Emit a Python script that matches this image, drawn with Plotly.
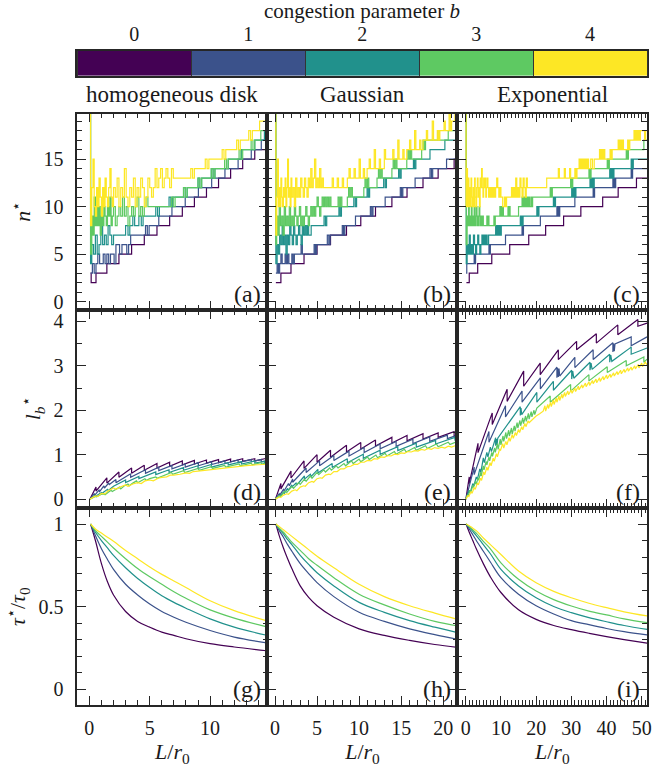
import plotly.graph_objects as go

FONT = "Liberation Serif"
COLORS = ["#440154", "#3b528b", "#21918c", "#5ec962", "#fde725"]
B_VALUES = [0, 1, 2, 3, 4]
PANEL_TITLES = ["homogeneous disk", "Gaussian", "Exponential"]
PANEL_LABELS = ["(a)", "(b)", "(c)", "(d)", "(e)", "(f)", "(g)", "(h)", "(i)"]
Y_TITLES = ["<i>n</i><sup>⋆</sup>", "<i>l</i><sub><i>b</i></sub><sup>⋆</sup>",
            "<i>τ</i><sup>⋆</sup>/<i>τ</i><sub>0</sub>"]
X_TITLE = "<i>L</i>/<i>r</i><sub>0</sub>"
CBAR_TITLE = "congestion parameter <i>b</i>"

# ---------------- row 1: n* (points as (L, n)) ----------------
A_B0 = [(0.1,3),(0.15,2),(0.55,3),(1.45,4),(2.45,5),(3.5,6),(4.55,7),(5.6,8),(6.65,9),(7.7,10),(8.7,11),(9.7,12),(10.7,13),(11.7,14),(12.7,15),(13.7,16),(14.7,16)]
A_B1 = [(0.1,3),(0.25,4),(0.4,3),(0.55,4),(0.7,5),(0.85,4),(1.0,4),(1.15,5),(1.3,4),(1.45,5),(1.6,4),(1.75,5),(1.9,5),(2.05,4),(2.2,6),(2.5,5),(2.7,6),(2.9,6),(3.1,5),(3.25,6),(3.42,7),(4.65,8),(4.8,7),(4.95,8),(5.75,9),(6.84,10),(7.94,11),(9.03,12),(10.13,13),(11.23,14),(12.32,15),(13.41,16),(14.24,17),(14.7,17)]
A_B2 = [(0.03,25),(0.1,4),(0.2,6),(0.35,5),(0.5,7),(0.65,5),(0.8,6),(0.95,8),(1.1,6),(1.25,7),(1.4,6),(1.55,8),(1.7,7),(1.85,6),(2.0,7),(3.0,8),(3.2,7),(3.35,8),(3.6,9),(3.75,8),(4.1,9),(4.3,8),(4.45,9),(5.5,10),(5.65,9),(5.8,10),(6.6,11),(6.75,10),(6.9,11),(7.8,12),(7.95,11),(8.1,12),(9.0,13),(9.15,12),(9.3,13),(10.1,14),(10.25,13),(10.4,14),(11.5,15),(12.6,16),(13.7,17),(14.5,18),(14.7,18)]
A_B3 = [(0.03,25),(0.1,5),(0.2,9),(0.3,7),(0.4,11),(0.5,8),(0.6,12),(0.7,8),(0.8,10),(0.9,7),(1.0,9),(1.1,8),(1.2,10),(1.3,9),(1.4,8),(1.5,10),(1.6,9),(1.7,11),(1.8,8),(1.9,9),(2.0,10),(2.15,8),(2.3,9),(2.45,10),(2.6,9),(2.75,11),(2.9,9),(3.05,10),(3.2,8),(3.35,9),(3.5,10),(3.65,9),(3.8,10),(3.95,11),(4.1,9),(4.25,10),(4.4,9),(4.55,10),(4.7,11),(4.85,10),(6.8,11),(6.95,10),(7.1,11),(7.8,12),(7.95,11),(8.1,12),(9.0,13),(9.15,12),(9.3,13),(10.1,14),(10.25,13),(10.4,14),(11.2,15),(11.35,14),(11.5,15),(12.4,16),(12.55,15),(12.7,16),(13.4,17),(13.55,16),(13.7,17),(14.2,18),(14.7,18)]
A_B4 = [(0.02,25),(0.1,8),(0.2,12),(0.3,15),(0.4,10),(0.5,9),(0.6,12),(0.7,10),(0.8,13),(0.9,11),(1.0,9),(1.1,12),(1.2,10),(1.3,13),(1.4,11),(1.5,10),(1.6,12),(1.7,14),(1.8,11),(1.9,10),(2.0,12),(2.15,11),(2.3,13),(2.45,10),(2.6,12),(2.75,11),(2.9,14),(3.05,11),(3.2,10),(3.35,12),(3.5,11),(3.65,13),(3.8,10),(3.95,12),(4.1,11),(4.25,13),(4.4,12),(4.55,10),(4.7,11),(4.85,13),(5.0,12),(5.15,11),(5.3,12),(5.45,14),(5.6,12),(5.75,13),(5.9,14),(6.05,12),(6.2,13),(6.35,14),(6.5,13),(6.65,12),(6.8,14),(6.95,13),(8.4,14),(8.55,13),(8.7,14),(9.6,15),(9.75,14),(9.9,15),(11.0,16),(11.15,15),(11.3,16),(12.2,17),(12.35,16),(12.5,17),(13.2,18),(13.35,17),(13.5,18),(14.1,19),(14.7,19)]

B_B0 = [(0.1,2),(0.7,3),(1.9,4),(3.45,5),(5.0,6),(6.6,7),(8.5,8),(10.2,9),(11.95,10),(13.9,11),(15.7,12),(17.6,13),(19.4,14),(21.3,15),(21.7,15)]
B_B1 = [(0.1,3),(0.25,4),(0.4,3),(0.55,4),(0.7,5),(0.85,4),(1.0,4),(1.2,5),(1.35,4),(1.5,5),(1.65,4),(1.8,4),(2.0,5),(2.15,4),(2.3,5),(2.9,5),(3.1,6),(3.25,5),(4.65,6),(4.8,5),(4.95,6),(6.22,7),(6.4,6),(6.55,7),(8.0,8),(8.15,7),(8.3,8),(9.57,9),(11.34,10),(11.5,9),(11.65,10),(13.1,11),(14.9,12),(15.05,11),(15.2,12),(16.66,13),(18.43,14),(18.6,13),(18.75,14),(20.4,15),(21.7,15)]
B_B2 = [(0.03,25),(0.1,4),(0.25,6),(0.4,5),(0.55,7),(0.7,6),(0.85,8),(1.0,6),(1.15,7),(1.3,5),(1.45,7),(1.6,6),(1.75,8),(1.9,7),(2.05,6),(2.2,8),(2.35,7),(2.5,6),(2.65,7),(2.8,8),(2.95,7),(3.1,6),(3.25,8),(3.4,7),(3.55,8),(3.7,7),(3.85,8),(4.0,7),(4.3,8),(5.83,9),(6.0,8),(6.15,9),(7.6,10),(7.75,9),(7.9,10),(9.37,11),(9.55,10),(9.7,11),(10.95,12),(11.1,11),(11.25,12),(12.92,13),(13.1,12),(13.25,13),(14.7,14),(14.85,13),(15.0,14),(16.46,15),(16.6,14),(16.75,15),(18.43,16),(20.2,17),(21.7,17)]
B_B3 = [(0.03,25),(0.1,6),(0.2,9),(0.35,7),(0.5,10),(0.65,8),(0.8,9),(0.95,7),(1.1,10),(1.25,8),(1.4,9),(1.55,8),(1.7,10),(1.85,8),(2.0,9),(2.15,8),(2.3,10),(2.45,9),(2.6,8),(2.75,9),(2.9,10),(3.05,8),(3.2,9),(3.35,8),(3.5,9),(3.65,10),(3.8,9),(3.95,8),(4.1,9),(4.25,10),(4.4,9),(4.55,10),(4.7,9),(4.85,10),(5.0,11),(5.15,10),(5.3,9),(5.45,10),(5.6,11),(5.75,10),(5.9,11),(6.05,10),(6.2,11),(6.35,10),(6.5,11),(6.65,10),(7.0,10),(7.5,11),(7.65,10),(7.8,11),(7.95,10),(8.6,11),(8.75,12),(8.9,11),(9.05,12),(9.2,11),(10.56,12),(10.7,13),(10.85,12),(11.0,13),(11.15,12),(12.13,13),(12.3,14),(12.45,13),(12.6,14),(12.75,13),(13.9,14),(14.05,15),(14.2,14),(14.35,15),(14.5,14),(15.67,15),(15.8,16),(15.95,15),(16.1,16),(16.25,15),(17.44,16),(17.6,17),(17.75,16),(17.9,17),(19.2,17),(19.35,18),(19.5,17),(20.6,18),(21.7,18)]
B_B4 = [(0.02,25),(0.1,7),(0.2,11),(0.3,15),(0.4,10),(0.5,12),(0.6,10),(0.7,13),(0.8,11),(0.9,10),(1.0,12),(1.1,11),(1.2,13),(1.3,10),(1.4,12),(1.5,15),(1.6,11),(1.7,12),(1.8,10),(1.9,13),(2.0,11),(2.15,12),(2.3,10),(2.45,13),(2.6,11),(2.75,12),(2.9,11),(3.05,13),(3.2,12),(3.35,11),(3.5,13),(3.65,12),(3.8,11),(3.95,13),(4.1,12),(4.25,14),(4.4,12),(4.55,13),(4.7,15),(4.85,12),(5.0,13),(5.15,12),(5.3,14),(5.45,12),(5.6,13),(5.75,12),(6.0,12),(6.8,13),(6.95,12),(7.4,13),(7.55,12),(8.0,13),(8.15,12),(8.6,13),(8.8,14),(8.95,13),(9.4,14),(9.55,13),(10.0,15),(10.15,13),(10.5,14),(10.65,13),(10.95,14),(11.2,15),(11.35,14),(11.8,16),(11.95,14),(12.4,15),(12.55,14),(13.0,16),(13.15,15),(13.7,15),(14.0,16),(14.15,15),(14.6,17),(14.75,15),(15.2,16),(15.35,15),(15.67,16),(16.0,17),(16.15,16),(16.6,18),(16.75,16),(17.2,17),(17.35,16),(17.6,17),(18.0,18),(18.15,17),(18.7,19),(18.85,17),(19.3,18),(19.45,17),(19.6,18),(20.1,19),(20.25,18),(20.7,20),(20.85,18),(21.0,19),(21.4,20),(21.55,19),(21.7,19)]

C_B0 = [(0.2,2),(1.0,3),(3.4,4),(7.4,5),(12.5,6),(17.9,7),(22.7,8),(27.8,9),(32.7,10),(38.9,11),(43.3,12),(48.5,13),(51.5,13)]
C_B1 = [(0.1,3),(0.3,4),(2.4,5),(2.6,4),(2.8,5),(6.6,6),(6.8,5),(7.0,6),(11.3,7),(16.0,8),(16.2,7),(16.4,8),(21.2,9),(25.9,10),(26.1,9),(26.3,10),(26.5,9),(26.7,10),(31.0,11),(36.2,12),(36.4,11),(36.6,12),(41.8,13),(42.0,12),(42.2,13),(42.4,12),(42.6,13),(47.0,14),(47.2,13),(47.4,14),(51.5,14)]
C_B2 = [(0.05,25),(0.15,4),(0.4,6),(0.7,5),(1.0,7),(1.3,5),(1.6,6),(1.9,5),(2.2,7),(2.5,6),(2.8,5),(3.1,6),(3.4,7),(3.7,6),(4.0,5),(4.3,6),(4.6,7),(4.9,6),(5.2,7),(5.5,6),(5.8,7),(6.1,6),(6.5,7),(8.5,8),(8.7,7),(8.9,8),(9.1,7),(9.3,8),(9.5,7),(9.7,8),(9.9,7),(10.1,8),(15.5,9),(15.7,8),(15.9,9),(16.1,8),(16.3,9),(20.2,10),(20.5,9),(20.8,10),(24.9,11),(25.2,10),(25.5,11),(30.1,12),(30.4,11),(30.7,12),(31.0,11),(31.3,12),(35.3,13),(35.6,12),(35.9,13),(36.2,12),(36.5,13),(40.9,14),(41.2,13),(41.5,14),(41.8,13),(42.1,14),(47.0,15),(47.3,14),(47.6,15),(51.5,15)]
C_B3 = [(0.05,25),(0.15,6),(0.4,9),(0.6,8),(0.8,10),(1.0,8),(1.2,9),(1.4,8),(1.6,10),(1.8,8),(2.0,9),(2.2,8),(2.4,10),(2.6,8),(2.8,9),(3.0,10),(3.2,8),(3.4,9),(3.6,8),(3.8,10),(4.0,9),(4.2,8),(4.4,9),(4.6,8),(4.8,9),(5.0,8),(5.5,8),(6.0,9),(6.2,8),(6.4,9),(6.6,8),(8.0,9),(8.2,8),(8.4,9),(9.5,9),(9.7,10),(9.9,9),(10.1,10),(10.3,9),(10.5,10),(10.7,9),(11.5,9),(12.0,10),(12.2,9),(12.4,10),(12.6,9),(13.5,9),(15.0,10),(16.0,11),(16.2,10),(16.4,11),(16.6,10),(16.8,11),(17.0,10),(17.2,11),(17.4,10),(17.6,11),(17.8,10),(18.0,11),(18.2,10),(18.6,11),(18.8,10),(19.0,11),(19.5,11),(24.0,12),(24.3,11),(24.6,12),(29.8,13),(30.1,12),(30.4,13),(35.0,14),(35.3,13),(35.6,14),(40.2,15),(40.5,14),(40.8,15),(45.6,16),(45.9,15),(46.2,16),(50.6,17),(51.5,17)]
C_B4 = [(0.03,25),(0.1,10),(0.3,14),(0.5,10),(0.7,13),(0.9,10),(1.1,12),(1.3,10),(1.5,13),(1.7,11),(1.9,10),(2.1,12),(2.3,10),(2.5,13),(2.7,11),(2.9,10),(3.1,12),(3.3,13),(3.5,11),(3.7,12),(3.9,10),(4.1,13),(4.3,12),(4.5,14),(4.7,12),(4.9,11),(5.1,13),(5.3,12),(5.5,13),(5.7,11),(5.9,12),(6.1,13),(6.3,12),(6.5,11),(6.7,12),(7.0,11),(7.3,12),(7.6,11),(7.9,12),(8.2,11),(8.5,12),(8.8,13),(9.1,12),(9.4,11),(9.7,12),(10.0,11),(10.5,10),(11.0,11),(11.3,10),(11.6,11),(12.5,11),(13.0,12),(13.3,11),(13.6,12),(13.9,11),(14.2,13),(14.5,11),(14.8,12),(15.1,11),(15.4,13),(15.7,12),(16.0,11),(16.3,13),(16.6,12),(16.9,11),(17.2,13),(17.5,12),(17.9,12),(23.0,13),(26.0,13),(26.3,14),(26.6,13),(28.0,14),(28.3,13),(29.5,14),(29.8,13),(31.0,14),(31.3,13),(31.6,14),(32.2,15),(32.5,14),(32.8,15),(33.1,14),(33.4,15),(33.7,14),(34.0,15),(34.3,14),(34.6,15),(34.9,14),(35.5,15),(36.0,14),(36.5,15),(37.5,15),(38.0,16),(38.3,15),(38.6,16),(38.9,15),(39.2,16),(39.5,15),(41.0,16),(41.3,15),(41.6,16),(43.0,16),(43.3,17),(43.6,16),(43.9,17),(44.2,16),(44.5,17),(44.8,16),(46.0,17),(46.3,16),(46.6,17),(47.5,17),(47.8,18),(48.1,17),(48.4,18),(48.7,17),(49.0,18),(49.3,17),(49.6,18),(50.5,18),(50.8,17),(51.1,18),(51.5,18)]

# ---------------- row 2: l_b* (points as (L, l)) ----------------
D_B0 = [(0.05,0.0),(0.55,0.275),(0.55,0.18),(1.45,0.48),(1.45,0.36),(2.45,0.61),(2.45,0.49),(3.5,0.70),(3.5,0.58),(4.55,0.76),(4.55,0.65),(5.6,0.80),(5.6,0.70),(6.65,0.83),(6.65,0.74),(7.7,0.86),(7.7,0.77),(8.7,0.87),(8.7,0.79),(9.7,0.88),(9.7,0.81),(10.7,0.89),(10.7,0.82),(11.7,0.90),(11.7,0.84),(12.7,0.91),(12.7,0.85),(13.7,0.91),(13.7,0.86),(14.7,0.92)]
D_B1 = [(0.05,0.0),(0.4,0.12),(0.45,0.09),(0.8,0.2),(0.85,0.17),(1.2,0.3),(1.25,0.25),(1.6,0.36),(1.65,0.33),(2.2,0.44),(2.2,0.37),(3.42,0.57),(3.42,0.49),(4.65,0.66),(4.65,0.58),(5.75,0.72),(5.75,0.64),(6.84,0.76),(6.84,0.68),(7.94,0.79),(7.94,0.72),(9.03,0.82),(9.03,0.75),(10.13,0.84),(10.13,0.78),(11.23,0.86),(11.23,0.80),(12.32,0.88),(12.32,0.82),(13.41,0.89),(13.41,0.84),(14.24,0.89),(14.24,0.84),(14.7,0.865)]
D_B2 = [(0.05,0.0),(0.5,0.09),(0.55,0.07),(1.0,0.15),(1.05,0.13),(1.5,0.22),(1.55,0.19),(2.0,0.29),(3.0,0.43),(3.0,0.375),(4.1,0.51),(4.1,0.46),(5.5,0.61),(5.5,0.55),(6.6,0.66),(6.6,0.60),(7.8,0.71),(7.8,0.65),(9.0,0.75),(9.0,0.69),(10.1,0.78),(10.1,0.72),(11.5,0.82),(11.5,0.77),(12.6,0.84),(12.6,0.79),(13.7,0.86),(13.7,0.81),(14.5,0.85),(14.5,0.81),(14.7,0.82)]
D_B3 = [(0.05,0.0),(0.5,0.06),(0.6,0.05),(1.0,0.11),(1.2,0.12),(1.3,0.1),(1.6,0.16),(1.8,0.2),(1.9,0.17),(2.2,0.23),(2.5,0.27),(2.6,0.23),(2.9,0.3),(3.2,0.34),(3.3,0.3),(3.6,0.36),(3.9,0.41),(4.0,0.37),(4.3,0.41),(4.6,0.46),(4.7,0.42),(5.0,0.46),(5.5,0.5),(5.6,0.47),(6.8,0.6),(6.9,0.56),(7.8,0.64),(7.9,0.6),(9.0,0.69),(9.1,0.65),(10.1,0.73),(10.2,0.69),(11.2,0.76),(11.3,0.72),(12.4,0.79),(12.5,0.75),(13.4,0.81),(13.5,0.77),(14.2,0.82),(14.3,0.79),(14.7,0.82)]
D_B4 = [(0.05,0.0),(0.5,0.07),(0.7,0.06),(1.0,0.13),(1.3,0.12),(1.5,0.18),(2.0,0.25),(2.2,0.22),(2.6,0.28),(3.0,0.32),(3.2,0.29),(3.6,0.34),(4.0,0.37),(4.3,0.35),(4.6,0.41),(5.0,0.43),(5.3,0.41),(5.7,0.47),(6.0,0.49),(6.4,0.5),(6.7,0.54),(7.0,0.54),(7.5,0.56),(8.0,0.59),(8.3,0.58),(8.6,0.62),(9.0,0.63),(9.6,0.65),(10.0,0.67),(10.5,0.68),(11.0,0.7),(11.5,0.71),(12.0,0.73),(12.5,0.74),(13.0,0.755),(13.5,0.765),(14.0,0.775),(14.7,0.785)]

E_B0 = [(0.05,0.0),(0.7,0.35),(0.7,0.23),(1.9,0.63),(1.9,0.475),(3.45,0.86),(3.45,0.69),(5.0,1.0),(5.0,0.83),(6.6,1.1),(6.6,0.94),(8.5,1.21),(8.5,1.06),(10.2,1.275),(10.2,1.13),(11.95,1.33),(11.95,1.195),(13.9,1.39),(13.9,1.26),(15.7,1.43),(15.7,1.31),(17.6,1.47),(17.6,1.35),(19.4,1.49),(19.4,1.39),(21.3,1.52),(21.3,1.42),(21.7,1.45)]
E_B1 = [(0.05,0.0),(0.5,0.12),(0.6,0.1),(1.0,0.22),(1.1,0.19),(1.6,0.35),(1.7,0.3),(2.1,0.45),(2.1,0.38),(3.7,0.7),(3.7,0.6),(5.3,0.86),(5.3,0.75),(7.0,0.98),(7.0,0.87),(8.8,1.08),(8.8,0.97),(10.6,1.16),(10.6,1.05),(12.5,1.24),(12.5,1.13),(14.4,1.3),(14.4,1.19),(16.4,1.35),(16.4,1.25),(18.4,1.4),(18.4,1.3),(20.5,1.44),(20.5,1.36),(21.7,1.44)]
E_B2 = [(0.05,0.0),(0.5,0.08),(0.6,0.06),(1.0,0.16),(1.1,0.13),(1.5,0.24),(1.6,0.2),(2.0,0.32),(2.0,0.27),(2.5,0.36),(2.6,0.32),(3.5,0.52),(3.5,0.45),(4.2,0.56),(4.3,0.51),(5.1,0.67),(5.1,0.59),(6.8,0.8),(6.8,0.71),(8.6,0.91),(8.6,0.82),(10.5,1.01),(10.5,0.92),(12.5,1.1),(12.5,1.01),(14.6,1.18),(14.6,1.09),(16.8,1.26),(16.8,1.17),(19.1,1.32),(19.1,1.24),(21.4,1.39),(21.4,1.32),(21.7,1.36)]
E_B3 = [(0.05,0.0),(0.5,0.08),(0.7,0.07),(1.2,0.18),(1.4,0.15),(2.0,0.28),(2.2,0.24),(2.8,0.37),(3.0,0.33),(3.5,0.45),(3.7,0.4),(4.2,0.52),(4.4,0.47),(5.0,0.6),(5.2,0.55),(5.8,0.66),(6.0,0.61),(6.5,0.7),(6.7,0.65),(7.3,0.75),(7.5,0.7),(8.2,0.8),(8.4,0.75),(9.1,0.86),(9.3,0.8),(10.0,0.9),(10.2,0.84),(11.0,0.95),(11.2,0.89),(12.0,0.99),(12.2,0.93),(13.1,1.03),(13.3,0.97),(14.2,1.07),(14.4,1.01),(15.4,1.12),(15.6,1.06),(16.6,1.16),(16.8,1.1),(17.9,1.2),(18.1,1.14),(19.2,1.24),(19.4,1.18),(20.6,1.28),(20.8,1.23),(21.7,1.3)]
E_B4 = [(0.05,0.0),(0.5,0.05),(0.7,0.04),(1.0,0.09),(1.4,0.12),(1.6,0.11),(2.0,0.18),(2.4,0.21),(2.6,0.19),(3.0,0.27),(3.4,0.3),(3.6,0.29),(4.0,0.37),(4.4,0.4),(4.6,0.38),(5.0,0.46),(5.4,0.48),(5.6,0.47),(6.0,0.54),(6.4,0.56),(6.6,0.55),(7.0,0.62),(7.4,0.62),(7.8,0.68),(8.2,0.68),(8.6,0.73),(9.0,0.74),(9.4,0.78),(9.8,0.78),(10.2,0.83),(10.6,0.83),(11.0,0.87),(11.4,0.86),(11.8,0.91),(12.2,0.9),(12.6,0.95),(13.0,0.94),(13.4,0.98),(13.8,0.97),(14.2,1.01),(14.6,1.0),(15.0,1.04),(15.4,1.03),(15.8,1.07),(16.2,1.06),(16.6,1.09),(17.0,1.08),(17.4,1.12),(17.8,1.1),(18.2,1.14),(18.6,1.12),(19.0,1.16),(19.4,1.14),(19.8,1.17),(20.2,1.15),(20.6,1.19),(21.0,1.17),(21.4,1.2),(21.7,1.19)]

F_B0 = [(0.05,0.0),(1.0,0.5),(1.0,0.35),(3.49,1.256),(3.49,1.046),(7.53,1.94),(7.53,1.68),(11.76,2.47),(11.76,2.2),(16.46,2.88),(16.46,2.54),(21.16,3.06),(21.16,2.8),(26.3,3.36),(26.3,3.14),(31.5,3.55),(31.5,3.36),(37.1,3.72),(37.1,3.51),(43.2,3.92),(43.2,3.7),(48.9,4.04),(48.9,3.89),(51.5,3.96)]
F_B1 = [(0.05,0.0),(2.4,0.72),(2.4,0.55),(6.6,1.52),(6.6,1.28),(11.3,2.1),(11.3,1.85),(16.0,2.43),(16.0,2.18),(21.2,2.73),(21.2,2.48),(25.9,2.97),(25.9,2.73),(26.1,2.95),(26.3,2.75),(26.5,2.94),(26.7,2.77),(31.0,3.19),(31.0,2.96),(36.2,3.36),(36.2,3.14),(41.8,3.52),(41.8,3.31),(42.0,3.5),(42.2,3.33),(42.4,3.49),(47.0,3.65),(47.0,3.45),(51.5,3.65)]
F_B2 = [(0.05,0.0),(1.0,0.2),(1.3,0.15),(2.0,0.35),(2.3,0.3),(3.0,0.5),(3.3,0.44),(4.0,0.68),(4.3,0.6),(5.0,0.93),(5.3,0.82),(6.0,1.05),(6.3,0.95),(7.0,1.17),(7.3,1.07),(8.5,1.38),(8.5,1.2),(8.7,1.35),(8.9,1.22),(9.1,1.37),(15.5,2.08),(15.5,1.88),(15.7,2.05),(15.9,1.9),(20.2,2.4),(20.2,2.18),(24.9,2.65),(24.9,2.45),(30.1,2.9),(30.1,2.7),(30.4,2.88),(30.7,2.72),(35.3,3.08),(35.3,2.9),(35.6,3.06),(35.9,2.92),(40.9,3.26),(40.9,3.08),(41.2,3.24),(41.5,3.1),(47.0,3.42),(47.0,3.26),(51.5,3.4)]
F_B3 = [(0.05,0.0),(0.5,0.1),(0.7,0.07),(1.2,0.2),(1.4,0.15),(2.0,0.3),(2.2,0.26),(2.8,0.4),(3.0,0.33),(3.5,0.48),(3.7,0.42),(4.2,0.6),(4.4,0.52),(5.0,0.75),(5.2,0.66),(5.8,0.85),(6.0,0.77),(6.6,0.95),(6.8,0.86),(7.4,1.05),(7.6,0.96),(8.2,1.15),(8.4,1.05),(9.0,1.25),(9.2,1.12),(9.8,1.35),(10.0,1.22),(10.6,1.42),(10.8,1.3),(11.4,1.5),(11.6,1.36),(12.2,1.55),(12.4,1.42),(13.0,1.6),(13.2,1.46),(13.8,1.65),(14.0,1.53),(14.6,1.72),(14.8,1.6),(15.4,1.77),(15.6,1.65),(16.2,1.83),(16.4,1.7),(17.0,1.87),(17.2,1.75),(17.8,1.93),(18.0,1.8),(18.6,1.97),(18.8,1.85),(19.4,2.0),(19.6,1.9),(20.2,2.05),(24.0,2.32),(24.0,2.18),(29.8,2.58),(29.8,2.43),(35.0,2.8),(35.0,2.66),(40.2,2.98),(40.2,2.85),(45.6,3.12),(45.6,3.0),(50.6,3.2),(50.6,3.08),(51.5,3.15)]
F_B4 = [(0.05,0.0),(0.6,0.08),(0.9,0.06),(1.5,0.17),(1.8,0.13),(2.4,0.26),(2.7,0.22),(3.3,0.36),(3.6,0.32),(4.2,0.47),(4.5,0.42),(5.1,0.61),(5.4,0.55),(6.0,0.72),(6.3,0.65),(6.9,0.82),(7.2,0.75),(7.8,0.92),(8.1,0.85),(8.7,1.02),(9.0,0.95),(9.6,1.12),(9.9,1.1),(10.5,1.25),(10.8,1.15),(11.4,1.3),(11.7,1.22),(12.3,1.38),(12.6,1.3),(13.2,1.45),(13.5,1.37),(14.1,1.5),(14.4,1.43),(15.0,1.57),(15.3,1.5),(15.9,1.63),(16.2,1.56),(16.8,1.7),(17.1,1.63),(17.7,1.76),(18.0,1.72),(19.0,1.8),(20.0,1.87),(21.0,1.92),(22.0,1.98),(22.5,2.1),(22.7,1.98),(23.3,2.13),(23.5,2.04),(24.1,2.18),(24.3,2.08),(24.9,2.23),(25.1,2.13),(25.7,2.27),(25.9,2.18),(26.5,2.32),(26.7,2.22),(27.3,2.36),(27.5,2.27),(28.1,2.4),(28.3,2.31),(29.0,2.43),(29.2,2.35),(30.0,2.46),(30.2,2.38),(31.0,2.5),(31.2,2.42),(32.0,2.54),(32.2,2.46),(33.0,2.57),(33.2,2.5),(34.0,2.61),(34.2,2.53),(35.0,2.64),(35.2,2.56),(36.0,2.67),(36.2,2.6),(37.0,2.7),(37.2,2.62),(38.0,2.73),(38.2,2.65),(39.0,2.76),(39.2,2.68),(40.0,2.79),(40.2,2.71),(41.0,2.81),(41.2,2.74),(42.0,2.84),(42.2,2.77),(43.0,2.87),(43.2,2.8),(44.0,2.9),(44.2,2.82),(45.0,2.92),(45.2,2.85),(46.0,2.95),(46.2,2.88),(47.0,2.97),(47.2,2.9),(48.0,3.0),(48.2,2.93),(49.0,3.03),(49.2,2.95),(50.0,3.06),(50.2,2.98),(51.0,3.08),(51.5,3.02)]

# ---------------- row 3: tau*/tau0 (shared L grid per panel) ----------------
G_X = [0.1, 0.5, 1, 1.5, 2, 3, 4, 5, 6, 7, 8, 10, 12, 14.7]
G_B0 = [1.0, 0.9, 0.76, 0.65, 0.57, 0.47, 0.41, 0.375, 0.345, 0.325, 0.305, 0.275, 0.255, 0.232]
G_B1 = [1.0, 0.93, 0.85, 0.785, 0.725, 0.635, 0.57, 0.515, 0.47, 0.435, 0.405, 0.355, 0.315, 0.28]
G_B2 = [1.0, 0.95, 0.9, 0.855, 0.81, 0.735, 0.67, 0.615, 0.565, 0.525, 0.49, 0.425, 0.375, 0.326]
G_B3 = [1.0, 0.96, 0.925, 0.89, 0.855, 0.79, 0.73, 0.68, 0.635, 0.59, 0.55, 0.48, 0.43, 0.377]
G_B4 = [1.0, 0.97, 0.945, 0.92, 0.895, 0.84, 0.79, 0.74, 0.695, 0.655, 0.615, 0.535, 0.475, 0.413]

H_X = [0.1, 0.5, 1, 1.5, 2, 3, 4, 5, 7, 10, 13, 16, 19, 21.7]
H_B0 = [1.0, 0.93, 0.855, 0.79, 0.73, 0.625, 0.555, 0.505, 0.435, 0.365, 0.325, 0.295, 0.27, 0.252]
H_B1 = [1.0, 0.96, 0.92, 0.875, 0.835, 0.76, 0.7, 0.645, 0.56, 0.465, 0.41, 0.365, 0.33, 0.302]
H_B2 = [1.0, 0.97, 0.94, 0.905, 0.875, 0.81, 0.755, 0.705, 0.625, 0.525, 0.465, 0.415, 0.375, 0.342]
H_B3 = [1.0, 0.975, 0.95, 0.92, 0.89, 0.84, 0.79, 0.75, 0.675, 0.575, 0.51, 0.455, 0.41, 0.382]
H_B4 = [1.0, 0.985, 0.965, 0.945, 0.925, 0.885, 0.845, 0.805, 0.735, 0.635, 0.56, 0.505, 0.46, 0.422]

I_X = [0.1, 1, 2, 3, 5, 7, 10, 15, 20, 25, 30, 35, 40, 45, 51.5]
I_B0 = [1.0, 0.95, 0.9, 0.85, 0.76, 0.68, 0.585, 0.48, 0.422, 0.385, 0.36, 0.338, 0.318, 0.3, 0.278]
I_B1 = [1.0, 0.97, 0.935, 0.9, 0.835, 0.77, 0.675, 0.575, 0.505, 0.455, 0.415, 0.39, 0.367, 0.348, 0.328]
I_B2 = [1.0, 0.98, 0.955, 0.93, 0.875, 0.82, 0.725, 0.625, 0.553, 0.5, 0.463, 0.433, 0.408, 0.385, 0.362]
I_B3 = [1.0, 0.985, 0.965, 0.945, 0.895, 0.85, 0.765, 0.665, 0.594, 0.542, 0.503, 0.472, 0.449, 0.425, 0.402]
I_B4 = [1.0, 0.99, 0.975, 0.96, 0.915, 0.875, 0.815, 0.715, 0.644, 0.592, 0.553, 0.52, 0.493, 0.468, 0.443]

# ---------------- assemble ----------------
PAIR_PANELS = [
    [A_B0, A_B1, A_B2, A_B3, A_B4], [B_B0, B_B1, B_B2, B_B3, B_B4], [C_B0, C_B1, C_B2, C_B3, C_B4],
    [D_B0, D_B1, D_B2, D_B3, D_B4], [E_B0, E_B1, E_B2, E_B3, E_B4], [F_B0, F_B1, F_B2, F_B3, F_B4],
]
GRID_PANELS = [
    (G_X, [G_B0, G_B1, G_B2, G_B3, G_B4]),
    (H_X, [H_B0, H_B1, H_B2, H_B3, H_B4]),
    (I_X, [I_B0, I_B1, I_B2, I_B3, I_B4]),
]

W, H = 656, 768
COL_PX = [(78, 269.5), (269.5, 461), (461, 652)]
ROW_PX = [(114, 311), (311, 510), (510, 708)]
X_RANGES = [[-0.99, 14.75], [-0.9, 21.7], [-2.34, 51.5]]
X_DTICK = [5, 5, 10]
Y_RANGES = [[-0.87, 19.8], [-0.2, 4.26], [-0.098, 1.097]]
Y_DTICK = [5, 1, 0.5]
Y_MINOR = [1, 0.5, 0.1]
SHAPES = ["hv", "linear", "spline"]

AX_COLOR = "#262626"
TXT_COLOR = "#1a1a1a"
TICK_FONT = dict(family=FONT, size=20, color=TXT_COLOR)
TITLE_FONT = dict(family=FONT, size=22, color=TXT_COLOR)


def aref(letter, k):
    return f"{letter}{'' if k == 1 else k}"


fig = go.Figure()

for p in range(9):
    r, c = divmod(p, 3)
    k = p + 1
    if r < 2:
        series = [([q[0] for q in s], [q[1] for q in s]) for s in PAIR_PANELS[p]]
    else:
        gx, gys = GRID_PANELS[c]
        series = [(gx, gy) for gy in gys]
    for b, (xs, ys) in enumerate(series):
        fig.add_trace(go.Scatter(
            x=xs, y=ys, mode="lines", xaxis=aref("x", k), yaxis=aref("y", k),
            line=dict(color=COLORS[b], width=1.2, shape=SHAPES[r]),
            hoverinfo="skip", showlegend=False))

layout = {}
annotations = []
for p in range(9):
    r, c = divmod(p, 3)
    k = p + 1
    sfx = "" if k == 1 else str(k)
    xa = dict(
        domain=[COL_PX[c][0] / W, COL_PX[c][1] / W], anchor=aref("y", k),
        range=X_RANGES[c], tick0=0, dtick=X_DTICK[c],
        ticks="inside", ticklen=9, tickwidth=1.3, tickcolor=AX_COLOR,
        minor=dict(ticks="inside", ticklen=5, tickwidth=1, tickcolor=AX_COLOR, dtick=1, tick0=0),
        showline=True, linecolor=AX_COLOR, linewidth=1.6, mirror="ticks",
        showgrid=False, zeroline=False, layer="above traces",
        showticklabels=(r == 2), tickfont=TICK_FONT, ticklabelstandoff=4,
        ticklabeloverflow="allow",
    )
    if r == 2:
        xa["title"] = dict(text=X_TITLE, font=TITLE_FONT, standoff=5)
    ya = dict(
        domain=[1 - ROW_PX[r][1] / H, 1 - ROW_PX[r][0] / H], anchor=aref("x", k),
        range=Y_RANGES[r], tick0=0, dtick=Y_DTICK[r],
        ticks="inside", ticklen=9, tickwidth=1.3, tickcolor=AX_COLOR,
        minor=dict(ticks="inside", ticklen=5, tickwidth=1, tickcolor=AX_COLOR, dtick=Y_MINOR[r], tick0=0),
        showline=True, linecolor=AX_COLOR, linewidth=1.6, mirror="ticks",
        showgrid=False, zeroline=False, layer="above traces",
        showticklabels=(c == 0), tickfont=TICK_FONT, ticklabelstandoff=8,
    )
    if c == 0:
        ya["title"] = dict(text=Y_TITLES[r], font=TITLE_FONT, standoff=7)
    layout[f"xaxis{sfx}"] = xa
    layout[f"yaxis{sfx}"] = ya
    annotations.append(dict(
        text=PANEL_LABELS[p], xref=aref("x", k) + " domain", yref=aref("y", k) + " domain",
        x=0.975, y=0.005, xanchor="right", yanchor="bottom", showarrow=False,
        font=dict(family=FONT, size=24, color=TXT_COLOR)))

for c in range(3):
    annotations.append(dict(
        text=PANEL_TITLES[c], xref="paper", yref="paper",
        x=(COL_PX[c][0] + COL_PX[c][1]) / 2 / W, y=1 - 95 / H,
        xanchor="center", yanchor="middle", showarrow=False,
        font=dict(family=FONT, size=23, color=TXT_COLOR)))

# colour bar title as a paper annotation so it cannot collide with the tick labels
annotations.append(dict(
    text=CBAR_TITLE, xref="paper", yref="paper", x=(78 + 652) / 2 / W, y=1 - 11 / H,
    xanchor="center", yanchor="middle", showarrow=False, borderpad=0,
    font=dict(family=FONT, size=21, color=TXT_COLOR)))

# discrete colour bar for the congestion parameter b
CBAR_SCALE = [[i / (len(COLORS) - 1), col] for i, col in enumerate(COLORS)]
fig.add_trace(go.Heatmap(
    z=[B_VALUES], x=B_VALUES, y=[0], colorscale=CBAR_SCALE,
    zmin=B_VALUES[0], zmax=B_VALUES[-1], showscale=False,
    xaxis="x10", yaxis="y10", hoverinfo="skip"))
layout["xaxis10"] = dict(
    domain=[78 / W, 652 / W], anchor="y10", side="top",
    range=[-0.5, 4.5], tickvals=B_VALUES, ticks="",
    minor=dict(ticks="inside", ticklen=25, tickwidth=1, tickcolor="#333", tick0=0.5, dtick=1),
    showline=True, linecolor=AX_COLOR, linewidth=1.6, mirror=True,
    showgrid=False, zeroline=False, layer="above traces",
    tickfont=TICK_FONT, ticklabelstandoff=0)
layout["yaxis10"] = dict(
    domain=[1 - 76 / H, 1 - 51 / H], anchor="x10", range=[-0.5, 0.5],
    showticklabels=False, ticks="", showline=True, linecolor=AX_COLOR,
    linewidth=1.6, mirror=True, showgrid=False, zeroline=False)

fig.update_layout(
    width=W, height=H, margin=dict(l=0, r=0, t=0, b=0),
    paper_bgcolor="white", plot_bgcolor="white", showlegend=False,
    font=dict(family=FONT, color=TXT_COLOR), annotations=annotations, **layout)

fig.write_html("out.html")
